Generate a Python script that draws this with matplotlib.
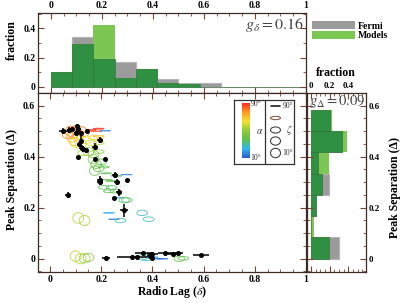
import numpy as np
import matplotlib
matplotlib.use('Agg')
import matplotlib.pyplot as plt
from matplotlib.patches import Ellipse, Patch
from matplotlib.colors import LinearSegmentedColormap, Normalize
from matplotlib.ticker import MultipleLocator, FuncFormatter

plt.rcParams['font.family'] = ['Liberation Serif', 'DejaVu Serif']
plt.rcParams['font.weight'] = 'bold'
plt.rcParams['mathtext.fontset'] = 'custom'
plt.rcParams['mathtext.rm'] = 'STIXGeneral:normal'
plt.rcParams['mathtext.it'] = 'STIXGeneral:italic:normal'
plt.rcParams['mathtext.bf'] = 'STIXGeneral:bold'
plt.rcParams['mathtext.fallback'] = 'stix'

# ---------------- data ----------------
top_edges = np.arange(13) / 12.0
top_fermi = [0.10, 0.34, 0.19, 0.17, 0.12, 0.055, 0.025, 0.025, 0, 0, 0, 0]
top_models = [0.10, 0.29, 0.42, 0.06, 0.12, 0.025, 0.02, 0, 0, 0, 0, 0]

right_edges = np.arange(8) / 12.0
right_fermi = [0.305, 0.0, 0.05, 0.197, 0.079, 0.337, 0.204]
right_models = [0.194, 0.032, 0.05, 0.115, 0.197, 0.39, 0.222]

g_delta = 0.16
g_Delta = 0.09

# Fermi pulsars: radio lag, peak separation, x error, y error
fermi_delta = [0.05, 0.075, 0.085, 0.105, 0.11, 0.12, 0.10, 0.145, 0.12, 0.115,
               0.195, 0.175, 0.13, 0.14, 0.125, 0.11, 0.175, 0.215, 0.255, 0.195,
               0.195, 0.26, 0.30, 0.27, 0.25, 0.07, 0.29,
               0.22, 0.32, 0.34, 0.40, 0.365, 0.40, 0.45, 0.48, 0.50, 0.59, 0.39]
fermi_Delta = [0.500, 0.505, 0.51, 0.52, 0.51, 0.495, 0.495, 0.50, 0.46, 0.45,
               0.465, 0.44, 0.43, 0.425, 0.435, 0.40, 0.39, 0.39, 0.33, 0.31,
               0.30, 0.30, 0.31, 0.26, 0.24, 0.25, 0.19,
               0.004, 0.006, 0.008, 0.004, 0.022, 0.018, 0.024, 0.02, 0.022, 0.016, 0.01]
fermi_xerr = [0.015, 0.01, 0.005, 0.008, 0.005, 0.005, 0.005, 0.0, 0.004, 0.0,
              0.012, 0.012, 0.012, 0.01, 0.01, 0.0, 0.0, 0.0, 0.012, 0.012,
              0.012, 0.012, 0.0, 0.012, 0.0, 0.012, 0.015,
              0.016, 0.06, 0.01, 0.01, 0.035, 0.02, 0.03, 0.02, 0.02, 0.03, 0.01]
fermi_yerr = [0.012, 0.01, 0.005, 0.01, 0.008, 0.005, 0.005, 0.0, 0.035, 0.0,
              0.012, 0.012, 0.012, 0.01, 0.01, 0.0, 0.0, 0.0, 0.012, 0.015,
              0.012, 0.012, 0.0, 0.012, 0.0, 0.012, 0.025,
              0.0, 0.0, 0.0, 0.004, 0.005, 0.0, 0.0, 0.0, 0.0, 0.0, 0.0]

# Model predictions: radio lag, peak separation, alpha (deg), zeta (deg)
model_delta = [0.08, 0.09, 0.10, 0.085, 0.11, 0.12, 0.095, 0.13, 0.07,
               0.16, 0.18, 0.19, 0.215,
               0.17, 0.19, 0.10, 0.12, 0.14, 0.16, 0.19,
               0.15, 0.17, 0.13, 0.19,
               0.17, 0.18, 0.19, 0.175, 0.20, 0.21, 0.22,
               0.22, 0.24, 0.26, 0.30,
               0.21, 0.24, 0.255, 0.23, 0.265, 0.29, 0.30,
               0.23, 0.25, 0.275, 0.36, 0.385,
               0.11, 0.135,
               0.10, 0.12, 0.135, 0.15, 0.36, 0.38, 0.40, 0.42, 0.44, 0.505, 0.52]
model_Delta = [0.50, 0.49, 0.505, 0.475, 0.48, 0.505, 0.46, 0.49, 0.485,
               0.505, 0.50, 0.51, 0.502,
               0.475, 0.48, 0.455, 0.45, 0.465, 0.455, 0.455,
               0.42, 0.41, 0.415, 0.42,
               0.39, 0.37, 0.355, 0.345, 0.38, 0.36, 0.335,
               0.31, 0.305, 0.325, 0.33,
               0.28, 0.28, 0.265, 0.265, 0.24, 0.23, 0.23,
               0.18, 0.155, 0.15, 0.18, 0.155,
               0.16, 0.15,
               0.01, 0.0, 0.002, 0.005, 0.005, 0.0, 0.005, 0.0, 0.0, 0.0, 0.002]
model_alpha = [80, 75, 85, 70, 72, 80, 68, 75, 78,
               88, 85, 90, 15,
               65, 70, 62, 60, 64, 58, 55,
               50, 48, 52, 47,
               42, 40, 38, 40, 38, 36, 35,
               38, 36, 30, 15,
               35, 33, 35, 37, 18, 35, 33,
               22, 15, 28, 27, 28,
               55, 53,
               56, 55, 52, 47, 30, 26, 20, 15, 12, 38, 36]
model_zeta = [20, 30, 40, 30, 20, 50, 40, 60, 50,
              88, 88, 85, 88,
              70, 80, 30, 20, 50, 60, 70,
              40, 50, 60, 70,
              30, 40, 50, 30, 60, 80, 85,
              88, 88, 88, 88,
              70, 70, 70, 75, 88, 60, 65,
              85, 88, 65, 60, 65,
              10, 20,
              10, 20, 30, 40, 60, 70, 80, 88, 88, 60, 70]

legend_zeta = [90, 70, 50, 30, 10]

# ---------------- figure ----------------
W, H = 407, 303
fig = plt.figure(figsize=(W / 100, H / 100), dpi=100)


def ax_px(l, t, r, b, **kw):
    return fig.add_axes([l / W, 1 - b / H, (r - l) / W, (b - t) / H], **kw)


GREY = '#9b9b9b'
LGREEN = '#7cc653'
DGREEN = '#2f8f43'
SPINEC = '#3e2c26'
TICKC = '#7a4434'

cmap = LinearSegmentedColormap.from_list(
    'alpha', ['#2a5ad0', '#2fb8ea', '#5fc04a', '#8fcc3a', '#f2e22e', '#ff9a22', '#ff2a1e'])
norm = Normalize(10, 90)

ax_top = ax_px(38, 13, 306, 93)
ax_main = ax_px(38, 93, 306, 272)
ax_right = ax_px(307, 93, 366, 272)

fmt = FuncFormatter(lambda v, p: f"{v:g}")


def style(ax):
    ax.tick_params(which='both', direction='in', top=True, bottom=True, left=True,
                   right=True, colors=TICKC, labelcolor='black', labelsize=7, pad=2)
    ax.tick_params(which='major', length=4, width=0.8)
    ax.tick_params(which='minor', length=2.2, width=0.6)
    for s in ax.spines.values():
        s.set_color(SPINEC)
        s.set_linewidth(0.9)


# top histogram
tl = top_edges[:-1]
tw = np.diff(top_edges)
ax_top.bar(tl, top_fermi, tw, align='edge', color=GREY, edgecolor='#b4b4b4', lw=0.8)
ax_top.bar(tl, top_models, tw, align='edge', color=LGREEN, edgecolor='none')
ax_top.bar(tl, np.minimum(top_fermi, top_models), tw, align='edge', color=DGREEN,
           edgecolor='#2a6a35', lw=0.4)
ax_top.set_xlim(-0.05, 1.0)
ax_top.set_ylim(-0.041, 0.504)
ax_top.xaxis.set_major_locator(MultipleLocator(0.2))
ax_top.xaxis.set_minor_locator(MultipleLocator(0.05))
ax_top.yaxis.set_major_locator(MultipleLocator(0.2))
ax_top.yaxis.set_minor_locator(MultipleLocator(0.1))
ax_top.xaxis.set_major_formatter(fmt)
ax_top.yaxis.set_major_formatter(fmt)
style(ax_top)
ax_top.tick_params(labeltop=True, labelbottom=False)
ax_top.text(0.99, 0.42, r'$g_\delta = %.2f$' % g_delta, ha='right', va='center',
            fontsize=11.5, fontweight='normal', color='#444444')

# right histogram
rl = right_edges[:-1]
rw = np.diff(right_edges)
ax_right.barh(rl, right_fermi, rw, align='edge', color=GREY, edgecolor='#b4b4b4', lw=0.8)
ax_right.barh(rl, right_models, rw, align='edge', color=LGREEN, edgecolor='none')
ax_right.barh(rl, np.minimum(right_fermi, right_models), rw, align='edge', color=DGREEN,
              edgecolor='#2a6a35', lw=0.4)
ax_right.set_xlim(-0.043, 0.59)
ax_right.set_ylim(-0.052, 0.65)
ax_right.xaxis.set_major_locator(MultipleLocator(0.2))
ax_right.xaxis.set_minor_locator(MultipleLocator(0.05))
ax_right.yaxis.set_major_locator(MultipleLocator(0.2))
ax_right.yaxis.set_minor_locator(MultipleLocator(0.05))
ax_right.xaxis.set_major_formatter(fmt)
ax_right.yaxis.set_major_formatter(fmt)
style(ax_right)
ax_right.tick_params(labeltop=True, labelbottom=False, labelleft=False, labelright=True,
                     labelsize=6.5)
ax_right.text(-0.02, 0.615, r'$g_\Delta = %.2f$' % g_Delta, ha='left', va='center',
              fontsize=10.5, fontweight='normal', color='#444444')

# main scatter
ax_main.set_xlim(-0.047, 1.0)
ax_main.set_ylim(-0.052, 0.65)
EW = 0.042
for d, D, a, z in zip(model_delta, model_Delta, model_alpha, model_zeta):
    h = max(EW * np.cos(np.radians(z)), 0.0015)
    ax_main.add_patch(Ellipse((d, D), EW, h, facecolor='none',
                              edgecolor=cmap(norm(a)), lw=0.7, alpha=0.8, zorder=2))
ax_main.errorbar(fermi_delta, fermi_Delta, xerr=fermi_xerr, yerr=fermi_yerr, fmt='o',
                 color='black', ms=2.6, elinewidth=1.1, capsize=0, zorder=5)
ax_main.xaxis.set_major_locator(MultipleLocator(0.2))
ax_main.xaxis.set_minor_locator(MultipleLocator(0.05))
ax_main.yaxis.set_major_locator(MultipleLocator(0.2))
ax_main.yaxis.set_minor_locator(MultipleLocator(0.05))
ax_main.xaxis.set_major_formatter(fmt)
ax_main.yaxis.set_major_formatter(fmt)
style(ax_main)

# inset key (alpha colour bar and zeta shapes)
ak = ax_px(234, 100, 294, 164, zorder=10)
ak.set_xticks([])
ak.set_yticks([])
for s in ak.spines.values():
    s.set_color('#333333')
    s.set_linewidth(0.9)
ak.axvline(264.5, color='#333333', lw=0.9)
grad = np.linspace(90, 10, 200)[:, None]
ak.imshow(grad, cmap=cmap, norm=norm, origin='upper', aspect='auto',
          extent=[241.7, 249.3, 158.3, 103.3])
ak.set_xlim(234, 294)
ak.set_ylim(164, 100)
small = dict(fontsize=5.5, fontweight='normal', color='#333333', va='center', ha='left')
ak.text(250.5, 104.5, '90°', **small)
ak.text(250.5, 157.5, '10°', **small)
ak.text(255.5, 131, r'$\alpha$', fontsize=7, fontweight='normal', color='#333333',
        va='center', ha='left')
ys = [106, 118, 130, 141, 153]
for zz, yy in zip(legend_zeta, ys):
    hh = max(9.5 * np.cos(np.radians(zz)), 0.3)
    ak.add_patch(Ellipse((275.5, yy), 10, hh, facecolor='none',
                         edgecolor='#8a5a4a' if zz == 70 else '#444444', lw=0.8))
ak.text(282.5, 105.5, '90°', **small)
ak.text(286, 130, r'$\zeta$', fontsize=7, fontweight='normal', color='#333333',
        va='center', ha='left')
ak.text(282, 153, '10°', **small)

# histogram legend
handles = [Patch(facecolor=GREY, edgecolor='none'), Patch(facecolor=LGREEN, edgecolor='none')]
fig.legend(handles, ['Fermi', 'Models'], loc='upper left',
           bbox_to_anchor=(312 / W, 1 - 21 / H), frameon=False, fontsize=7,
           handlelength=4.4, handleheight=0.95, handletextpad=0.35, labelspacing=0.0,
           borderpad=0, borderaxespad=0)

# axis labels
fig.text(172 / W, 1 - 292 / H, r'Radio Lag ($\delta$)', ha='center', va='center', fontsize=8.5)
fig.text(12 / W, 1 - 180 / H, 'Peak Separation (Δ)', ha='center', va='center',
         rotation=90, fontsize=8.5)
fig.text(12 / W, 1 - 40 / H, 'fraction', ha='center', va='center', rotation=90, fontsize=8.5)
fig.text(336 / W, 1 - 73 / H, 'fraction', ha='center', va='center', fontsize=8.5)
fig.text(395 / W, 1 - 188 / H, 'Peak Separation (Δ)', ha='center', va='center',
         rotation=90, fontsize=8.5)

fig.savefig('out.png', dpi=100)
